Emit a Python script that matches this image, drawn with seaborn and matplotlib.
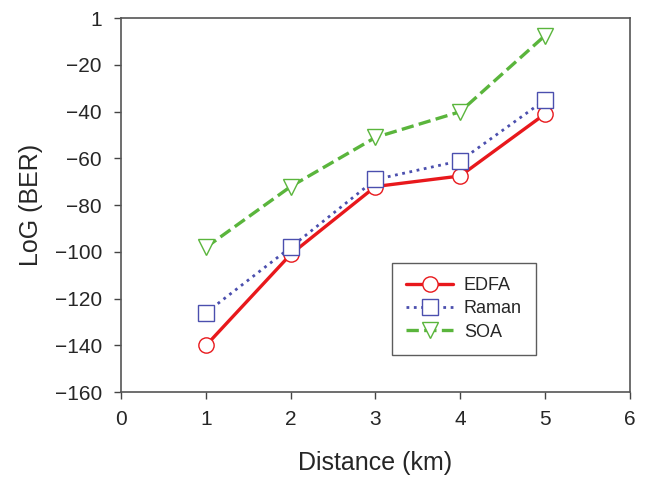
import pandas as pd
import seaborn as sns
import matplotlib.pyplot as plt

# Values
distance_km = [1, 2, 3, 4, 5]
edfa = [-140, -101, -72, -67.5, -41]
raman = [-126, -98, -69, -61, -35]
soa = [-98, -72, -51, -40, -7.5]

y_ticks = [-160, -140, -120, -100, -80, -60, -40, -20, 0]
y_tick_labels = ["\u2212160", "\u2212140", "\u2212120", "\u2212100", "\u221280",
                 "\u221260", "\u221240", "\u221220", "1"]
x_ticks = [0, 1, 2, 3, 4, 5, 6]

sns.set_style("white")
plt.rcParams['font.family'] = ['Liberation Sans', 'DejaVu Sans']

df = pd.DataFrame({"Distance": distance_km, "EDFA": edfa, "Raman": raman, "SOA": soa})

fig, ax = plt.subplots(figsize=(6.49, 4.8), dpi=100)
fig.subplots_adjust(left=0.187, right=0.970, top=0.962, bottom=0.183)

series = [
    ("EDFA", "#e8181c", "-", "o", 2.4),
    ("Raman", "#4b4fae", ":", "s", 2.0),
    ("SOA", "#5ab53c", "--", "v", 2.4),
]
for name, color, ls, marker, lw in series:
    sns.lineplot(data=df, x="Distance", y=name, ax=ax, color=color, linestyle=ls,
                 linewidth=lw, marker=marker, markersize=11, markerfacecolor="white",
                 markeredgecolor=color, markeredgewidth=1.0, label=name)

ax.set_xlim(0, 6)
ax.set_ylim(-160, 0)
ax.set_xticks(x_ticks)
ax.set_yticks(y_ticks)
ax.set_yticklabels(y_tick_labels)
ax.tick_params(axis="both", labelsize=15, direction="out", length=5, width=1,
               color="#444444", left=True, bottom=True)
ax.tick_params(axis="y", pad=9)
ax.tick_params(axis="x", pad=8)
ax.set_xlabel("Distance (km)", fontsize=18, labelpad=16)
ax.set_ylabel("LoG (BER)", fontsize=18, labelpad=8)
for sp in ax.spines.values():
    sp.set_color("#555555")
    sp.set_linewidth(1.2)

leg = ax.legend(loc="lower left", bbox_to_anchor=(0.532, 0.099), borderaxespad=0,
                fontsize=13, frameon=True, fancybox=False, edgecolor="#333333",
                handlelength=2.6, borderpad=0.8, labelspacing=0.35, handletextpad=0.6)
leg.get_frame().set_linewidth(1.0)

plt.savefig("out.png", dpi=100)
